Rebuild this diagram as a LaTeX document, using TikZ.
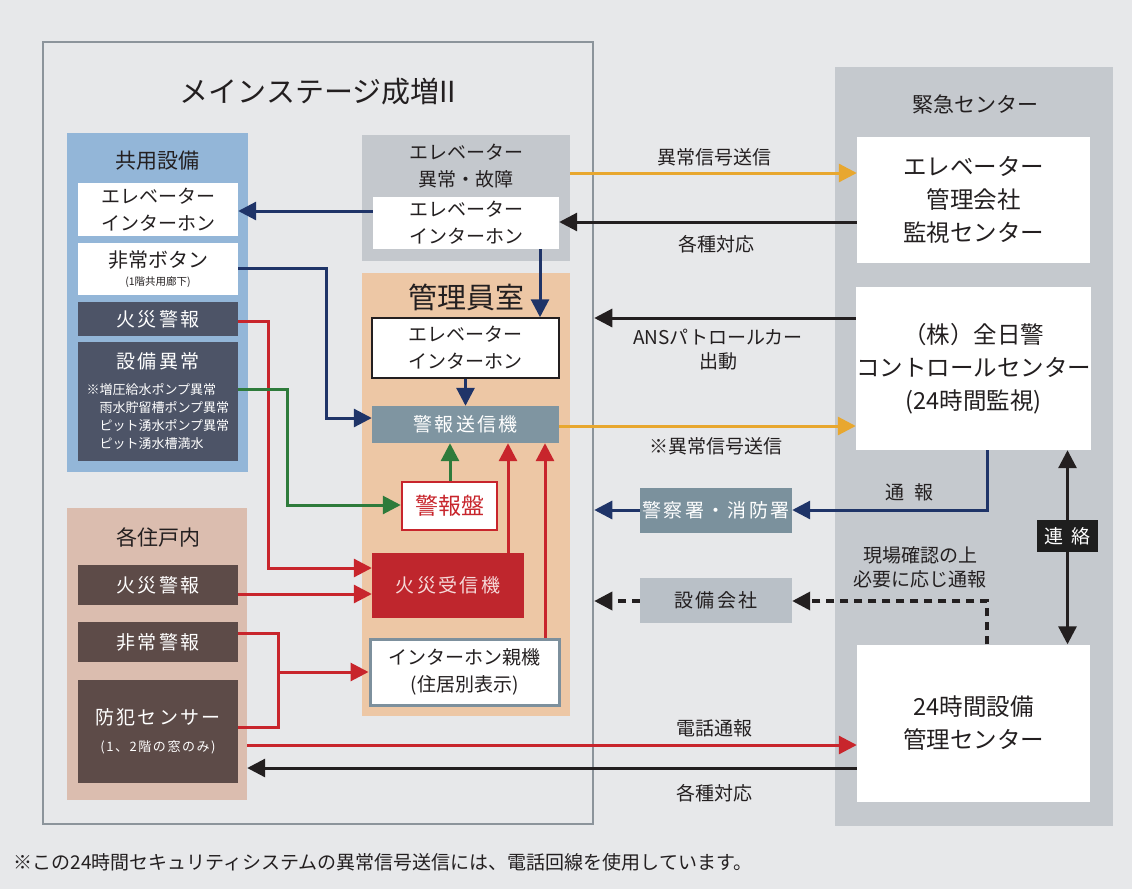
\documentclass[tikz,border=0pt]{standalone}
\usepackage{fontspec}
\setmainfont{Noto Sans CJK JP}
\newfontfamily\jpwide[LetterSpace=12]{Noto Sans CJK JP}
\usetikzlibrary{arrows.meta}

\definecolor{paper}{HTML}{E7E8EA}
\definecolor{framec}{HTML}{8C949B}
\definecolor{emerp}{HTML}{C5C9CE}
\definecolor{bluep}{HTML}{93B6D8}
\definecolor{pinkp}{HTML}{DBBDAF}
\definecolor{elevp}{HTML}{C4C8CD}
\definecolor{mgrp}{HTML}{EDC7A5}
\definecolor{slate}{HTML}{4D5467}
\definecolor{brownb}{HTML}{5D4B48}
\definecolor{senderc}{HTML}{7F95A1}
\definecolor{policec}{HTML}{7B919D}
\definecolor{setsubic}{HTML}{B9C0C7}
\definecolor{redl}{HTML}{C8252C}
\definecolor{redf}{HTML}{BF262D}
\definecolor{pinkt}{HTML}{F6DADA}
\definecolor{navyc}{HTML}{1F3468}
\definecolor{orangec}{HTML}{E8A72F}
\definecolor{greenc}{HTML}{2E7B3B}
\definecolor{mastc}{HTML}{7D909D}
\definecolor{ink}{HTML}{231F20}
\definecolor{renc}{HTML}{1E1E1E}

\newcommand{\fnttitle}{\fontsize{29}{34}\selectfont}
\newcommand{\fntsect}{\fontsize{21}{26}\selectfont}
\newcommand{\fntbox}{\fontsize{19}{27}\selectfont}
\newcommand{\fntbig}{\fontsize{23.5}{33}\selectfont}
\newcommand{\fntsmall}{\fontsize{13}{18}\selectfont}
\newcommand{\fnttiny}{\fontsize{10.5}{13}\selectfont}
\newcommand{\fntban}{\fontsize{23}{26}\selectfont}
\newcommand{\fntlbl}{\fontsize{19}{24}\selectfont}

\begin{document}
\begin{tikzpicture}[x=1pt,y=-1pt,
	panel/.style={rectangle,inner sep=0pt},
	box/.style={rectangle,inner sep=0pt,align=center,text=ink,font=\fntbox},
	whitebox/.style={box,fill=white},
	darkbox/.style={box,fill=slate,text=white,font=\jpwide\fntbox},
	brownbox/.style={box,fill=brownb,text=white,font=\jpwide\fntbox},
	sect/.style={text=ink,font=\fntsect},
	lbl/.style={text=ink,font=\fntlbl,align=center},
	navyln/.style={draw=navyc,line width=3pt},
	redln/.style={draw=redl,line width=3pt},
	greenln/.style={draw=greenc,line width=3pt},
	orangeln/.style={draw=orangec,line width=3pt},
	blackln/.style={draw=ink,line width=3pt},
	dashln/.style={line width=3.5pt,dash pattern=on 8pt off 6pt},
	arr/.style={-{Triangle[length=18pt,width=18pt]}}]
	\useasboundingbox (0,0) rectangle (1132,889);
	\fill[paper] (0,0) rectangle (1132,889);

	\node[panel,draw=framec,line width=2.5pt,minimum width=550pt,minimum height=782pt] (bldg) at (318,433) {};
	\node[text=ink,font=\fnttitle] (bldgTitle) at (318,92) {メインステージ成増II};
	\node[panel,fill=emerp,minimum width=278pt,minimum height=759pt] (emer) at (974,446.5) {};
	\node[sect] (emerTitle) at (975,104) {緊急センター};

	\node[panel,fill=bluep,minimum width=181pt,minimum height=339pt] (kyoyo) at (157.5,302.5) {};
	\node[sect] (kyoyoTitle) at (157,161) {共用設備};
	\node[whitebox,minimum width=160pt,minimum height=53pt] (kyEV) at (158,209.5) {エレベーター\\インターホン};
	\node[whitebox,minimum width=160pt,minimum height=52pt] (kyBtn) at (158,269) {{\fontsize{20}{22}\selectfont 非常ボタン}\\[-9pt]{\fnttiny (1階共用廊下)}};
	\node[darkbox,minimum width=160pt,minimum height=34pt] (kyFire) at (158,319) {火災警報};
	\node[darkbox,font=\fntsmall,minimum width=160pt,minimum height=119pt] (kyEq) at (158,401.5) {{\jpwide\fntbox 設備異常}\\[8pt]
		\makebox[143pt][l]{※増圧給水ポンプ異常}\\
		\makebox[143pt][l]{\hspace*{13pt}雨水貯留槽ポンプ異常}\\
		\makebox[143pt][l]{\hspace*{13pt}ピット湧水ポンプ異常}\\
		\makebox[143pt][l]{\hspace*{13pt}ピット湧水槽満水}};

	\node[panel,fill=pinkp,minimum width=180pt,minimum height=292pt] (juko) at (157,654) {};
	\node[sect] (jukoTitle) at (158,537) {各住戸内};
	\node[brownbox,minimum width=160pt,minimum height=40pt] (hoFire) at (158,585) {火災警報};
	\node[brownbox,minimum width=160pt,minimum height=40pt] (hoEmg) at (158,642) {非常警報};
	\node[brownbox,minimum width=160pt,minimum height=103pt] (hoSec) at (158,731.5) {防犯センサー\\{\fntsmall (1、2階の窓のみ)}};

	\node[panel,fill=elevp,minimum width=208pt,minimum height=126pt] (elev) at (466,198) {};
	\node[box] (elevTitle) at (466,166) {エレベーター\\異常・故障};
	\node[whitebox,minimum width=186pt,minimum height=52pt] (elEV) at (466,223) {エレベーター\\インターホン};

	\node[panel,fill=mgrp,minimum width=208pt,minimum height=443pt] (mgr) at (466,494.5) {};
	\node[text=ink,font=\fnttitle] (mgrTitle) at (466,297) {管理員室};
	\node[whitebox,draw=ink,line width=1.5pt,minimum width=187pt,minimum height=60pt] (mgEV) at (465.5,348) {エレベーター\\インターホン};
	\node[box,fill=senderc,text=white,font=\jpwide\fntbox,minimum width=187pt,minimum height=37pt] (sender) at (465.5,424.5) {警報送信機};
	\node[box,fill=white,draw=redl,line width=2.5pt,text=redl,font=\fntban,minimum width=95pt,minimum height=48pt] (keiban) at (449.5,506) {警報盤};
	\node[box,fill=redf,text=pinkt,font=\jpwide\fntbox,minimum width=152pt,minimum height=65pt] (fireRecv) at (448,585.5) {火災受信機};
	\node[whitebox,draw=mastc,line width=3pt,minimum width=189pt,minimum height=66pt] (master) at (464.5,672) {インターホン親機\\(住居別表示)};

	\node[whitebox,font=\fntbig,minimum width=233pt,minimum height=126pt] (emEV) at (973.5,200) {エレベーター\\管理会社\\監視センター};
	\node[whitebox,font=\fntbig,minimum width=233pt,minimum height=163pt] (emANS) at (973.5,368.5) {（株）全日警\\コントロールセンター\\(24時間監視)};
	\node[whitebox,font=\fntbig,minimum width=233pt,minimum height=157pt] (em24) at (973.5,723) {24時間設備\\管理センター};
	\node[box,fill=renc,text=white,minimum width=61pt,minimum height=32pt] (renraku) at (1067.5,536) {連\hspace{8pt}絡};

	\node[box,fill=policec,text=white,font=\jpwide\fntbox,minimum width=152pt,minimum height=45pt] (police) at (716,510) {警察署・消防署};
	\node[box,fill=setsubic,font=\jpwide\fntbox,minimum width=152pt,minimum height=45pt] (setsubi) at (716,600) {設備会社};

	\node[lbl] (lbAbn1) at (714,157) {異常信号送信};
	\node[lbl] (lbResp1) at (716,244) {各種対応};
	\node[lbl] (lbANS) at (718,350) {ANSパトロールカー\\出動};
	\node[lbl] (lbAbn2) at (716,446) {※異常信号送信};
	\node[lbl] (lbTsuho) at (909,492) {通\hspace{10pt}報};
	\node[lbl] (lbGenba) at (920,567) {現場確認の上\\必要に応じ通報};
	\node[lbl] (lbTel) at (714,728) {電話通報};
	\node[lbl] (lbResp2) at (714,793) {各種対応};
	\node[lbl,anchor=west] (note) at (10,862) {※この24時間セキュリティシステムの異常信号送信には、電話回線を使用しています。};

	\draw[orangeln,arr] (elev.east |- 0,173) -- (emEV.west |- 0,173);
	\draw[blackln,arr] (emEV.west |- 0,222) -- (elEV.east |- 0,222);
	\draw[navyln,arr] (elEV.west |- 0,211) -- (kyEV.east |- 0,211);
	\draw[navyln,arr] (elEV.south -| 540,0) -- (mgEV.north -| 540,0);
	\draw[navyln,arr] (mgEV.south) -- (sender.north);
	\draw[navyln,arr] (kyBtn.east |- 0,268) -- (326,268) -- (326,418) -- (sender.west |- 0,418);
	\draw[blackln,arr] (emANS.west |- 0,318) -- (bldg.east |- 0,318);
	\draw[orangeln,arr] (sender.east |- 0,426) -- (emANS.west |- 0,426);
	\draw[navyln,arr] (emANS.south -| 987,0) -- (987,510) -- (police.east);
	\draw[navyln,arr] (police.west) -- (police.west -| bldg.east);
	\draw[blackln,arr] (renraku.north) -- (emANS.south -| renraku.north);
	\draw[blackln,arr] (renraku.south) -- (em24.north -| renraku.south);
	\draw[blackln,dashln,arr] (em24.north -| 987,0) -- (987,601) -- (setsubi.east |- 0,601);
	\draw[blackln,dashln,arr] (setsubi.west |- 0,601) -- (bldg.east |- 0,601);
	\draw[redln,arr] (juko.east |- 0,745) -- (em24.west |- 0,745);
	\draw[blackln,arr] (em24.west |- 0,768) -- (juko.east |- 0,768);
	\draw[redln,arr] (kyFire.east |- 0,321) -- (268,321) -- (268,568) -- (fireRecv.west |- 0,568);
	\draw[redln,arr] (hoFire.east |- 0,594) -- (fireRecv.west |- 0,594);
	\draw[redln] (hoEmg.east |- 0,633) -- (278,633) -- (278,727) -- (hoSec.east |- 0,727);
	\coordinate (join) at (278,672);
	\draw[redln,arr] (join) -- (master.west |- join);
	\draw[greenln,arr] (kyEq.east |- 0,389) -- (287,389) -- (287,505) -- (keiban.west |- 0,505);
	\draw[greenln,arr] (keiban.north -| 450,0) -- (sender.south -| 450,0);
	\draw[redln,arr] (fireRecv.north -| 508,0) -- (sender.south -| 508,0);
	\draw[redln,arr] (master.north -| 545,0) -- (sender.south -| 545,0);
\end{tikzpicture}
\end{document}
